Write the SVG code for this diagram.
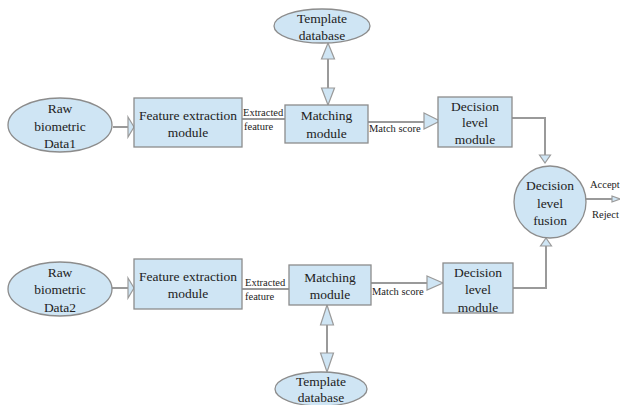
<svg xmlns="http://www.w3.org/2000/svg" width="620" height="405" viewBox="0 0 620 405">
  <defs>
    <style>
      .node { fill: #cfe5f4; stroke: #8c8c8c; stroke-width: 1.3; }
      .lbl { font-family: "Liberation Serif", "Times New Roman", serif; font-size: 13.5px; fill: #222; text-anchor: middle; }
      .small { font-family: "Liberation Serif", "Times New Roman", serif; font-size: 10.5px; fill: #222; }
      .wire { fill: none; stroke: #9a9a9a; stroke-width: 2; }
      .head { fill: #cfe5f4; stroke: #9a9a9a; stroke-width: 1.2; stroke-linejoin: miter; }
    </style>
  </defs>
  <rect width="620" height="405" fill="#ffffff"/>

  <!-- connectors -->
  <g id="connectors">
    <!-- upper branch -->
    <line class="wire" x1="113" y1="127" x2="128" y2="127"/>
    <polygon class="head" points="128,117 134,127 128,137"/>
    <line class="wire" x1="242" y1="119" x2="285" y2="119"/>
    <line class="wire" x1="328" y1="59" x2="328" y2="88"/>
    <polygon class="head" points="328,43 334.5,59 321.5,59"/>
    <polygon class="head" points="328,105 334.5,88 321.5,88"/>
    <line class="wire" x1="368" y1="122" x2="424" y2="122"/>
    <polygon class="head" points="424,113 440,121 424,129"/>
    <polyline class="wire" points="512,118 545,118 545,155"/>
    <polygon class="head" points="539.5,155 550.5,155 545,163"/>

    <!-- lower branch -->
    <line class="wire" x1="112" y1="288" x2="128" y2="288"/>
    <polygon class="head" points="128,278 134,288 128,298"/>
    <line class="wire" x1="242" y1="289" x2="289" y2="289"/>
    <line class="wire" x1="327" y1="325" x2="327" y2="353"/>
    <polygon class="head" points="327,305 333.5,325 320.5,325"/>
    <polygon class="head" points="327,372 333.5,353 320.5,353"/>
    <line class="wire" x1="371" y1="283" x2="427" y2="283"/>
    <polygon class="head" points="427,276 443,283 427,290"/>
    <polyline class="wire" points="513,288 546,288 546,246"/>
    <polygon class="head" points="540.5,246 551.5,246 546,238"/>

    <!-- fusion output -->
    <line class="wire" x1="585" y1="199" x2="612" y2="199"/>
    <polygon class="head" points="612,196 620,199 612,202"/>

    <text class="small" x="243" y="116">Extracted</text>
    <text class="small" x="244" y="130">feature</text>
    <text class="small" x="369" y="132">Match score</text>
    <text class="small" x="245" y="286">Extracted</text>
    <text class="small" x="245" y="300">feature</text>
    <text class="small" x="372" y="295">Match score</text>
    <text class="small" x="590" y="188">Accept</text>
    <text class="small" x="592" y="218">Reject</text>
  </g>

  <!-- upper branch nodes -->
  <g id="template-db-1">
    <ellipse class="node" cx="322" cy="26" rx="48" ry="17"/>
    <text class="lbl" x="322" y="23">Template</text>
    <text class="lbl" x="322" y="40">database</text>
  </g>
  <g id="raw-data-1">
    <ellipse class="node" cx="60" cy="125" rx="52" ry="27"/>
    <text class="lbl" x="60" y="113">Raw</text>
    <text class="lbl" x="60" y="131">biometric</text>
    <text class="lbl" x="60" y="148">Data1</text>
  </g>
  <g id="feature-extraction-1">
    <rect class="node" x="134" y="98" width="108" height="49"/>
    <text class="lbl" x="188" y="120">Feature extraction</text>
    <text class="lbl" x="188" y="137">module</text>
  </g>
  <g id="matching-1">
    <rect class="node" x="285" y="105" width="83" height="38"/>
    <text class="lbl" x="326.5" y="120">Matching</text>
    <text class="lbl" x="326.5" y="138">module</text>
  </g>
  <g id="decision-1">
    <rect class="node" x="438" y="97" width="74" height="50"/>
    <text class="lbl" x="475" y="111">Decision</text>
    <text class="lbl" x="475" y="127">level</text>
    <text class="lbl" x="475" y="144">module</text>
  </g>

  <!-- fusion node -->
  <g id="fusion">
    <circle class="node" cx="550" cy="202" r="36"/>
    <text class="lbl" x="550" y="190">Decision</text>
    <text class="lbl" x="550" y="208">level</text>
    <text class="lbl" x="550" y="225">fusion</text>
  </g>

  <!-- lower branch nodes -->
  <g id="raw-data-2">
    <ellipse class="node" cx="60" cy="289" rx="52" ry="27"/>
    <text class="lbl" x="60" y="277">Raw</text>
    <text class="lbl" x="60" y="294">biometric</text>
    <text class="lbl" x="60" y="312">Data2</text>
  </g>
  <g id="feature-extraction-2">
    <rect class="node" x="134" y="259" width="108" height="50"/>
    <text class="lbl" x="188" y="281">Feature extraction</text>
    <text class="lbl" x="188" y="298">module</text>
  </g>
  <g id="matching-2">
    <rect class="node" x="289" y="265" width="82" height="40"/>
    <text class="lbl" x="330" y="282">Matching</text>
    <text class="lbl" x="330" y="299">module</text>
  </g>
  <g id="decision-2">
    <rect class="node" x="443" y="263" width="70" height="50"/>
    <text class="lbl" x="478" y="277">Decision</text>
    <text class="lbl" x="478" y="294">level</text>
    <text class="lbl" x="478" y="312">module</text>
  </g>
  <g id="template-db-2">
    <ellipse class="node" cx="321" cy="389" rx="46" ry="17"/>
    <text class="lbl" x="321" y="386">Template</text>
    <text class="lbl" x="321" y="402">database</text>
  </g>
</svg>
